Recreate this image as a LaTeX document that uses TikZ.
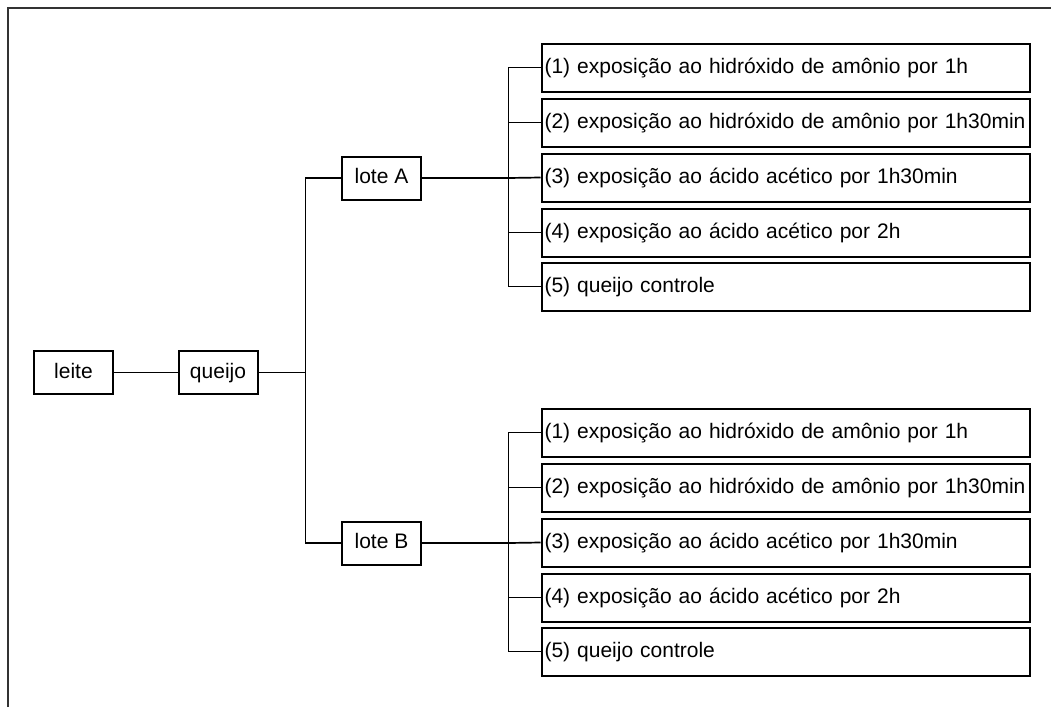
\documentclass[tikz,border=0pt]{standalone}
\usepackage{fontspec}
\setmainfont{Liberation Sans}
\usepackage{tikz}

\begin{document}
\begin{tikzpicture}[x=1pt, y=-1pt,
    box/.style={draw, line width=2pt, rectangle, minimum width=79pt, minimum height=43pt, inner sep=0pt, text height=15pt, text depth=4pt},
    leaf/.style={draw, line width=2pt, rectangle, anchor=west, text width=482pt, align=left, minimum height=48pt, inner xsep=3pt, inner ysep=0pt, text height=15pt, text depth=4pt},
    conn/.style={draw, line width=1.7pt}]
    \fontsize{21}{25}\selectfont
    \useasboundingbox (0,0) rectangle (1051,707);
    \draw[line width=2.5pt, black!80] (8,707) -- (8,8) -- (1051,8);

    \node[box] (leite) at (73.5,372.5) {leite};
    \node[box] (queijo) at (218,372.5) {queijo};
    \node[box] (lotea) at (381.5,178) {lote A};
    \node[box] (loteb) at (381.5,543) {lote B};

    \coordinate (trunk) at (305.5,372.5);
    \coordinate (busa) at (508.5,178);
    \coordinate (busb) at (508.5,543);

    \node[leaf] (aone) at (540.5,67.5) {(1) exposição ao hidróxido de amônio por 1h};
    \node[leaf] (atwo) at (540.5,122.5) {(2) exposição ao hidróxido de amônio por 1h30min};
    \node[leaf] (athree) at (540.5,177.5) {(3) exposição ao ácido acético por 1h30min};
    \node[leaf] (afour) at (540.5,232.5) {(4) exposição ao ácido acético por 2h};
    \node[leaf] (afive) at (540.5,286.5) {(5) queijo controle};

    \node[leaf] (bone) at (540.5,432.5) {(1) exposição ao hidróxido de amônio por 1h};
    \node[leaf] (btwo) at (540.5,487.5) {(2) exposição ao hidróxido de amônio por 1h30min};
    \node[leaf] (bthree) at (540.5,542.5) {(3) exposição ao ácido acético por 1h30min};
    \node[leaf] (bfour) at (540.5,597.5) {(4) exposição ao ácido acético por 2h};
    \node[leaf] (bfive) at (540.5,651.5) {(5) queijo controle};

    \draw[conn] (leite) -- (queijo);
    \draw[conn] (queijo) -- (trunk);
    \draw[conn] (lotea.west) -| (trunk) |- (loteb.west);

    \draw[conn] (lotea) -- (busa);
    \draw[conn] (busa) |- (aone.west);
    \draw[conn] (busa) |- (atwo.west);
    \draw[conn] (busa) -- (athree.west);
    \draw[conn] (busa) |- (afour.west);
    \draw[conn] (busa) |- (afive.west);

    \draw[conn] (loteb) -- (busb);
    \draw[conn] (busb) |- (bone.west);
    \draw[conn] (busb) |- (btwo.west);
    \draw[conn] (busb) -- (bthree.west);
    \draw[conn] (busb) |- (bfour.west);
    \draw[conn] (busb) |- (bfive.west);
\end{tikzpicture}
\end{document}
